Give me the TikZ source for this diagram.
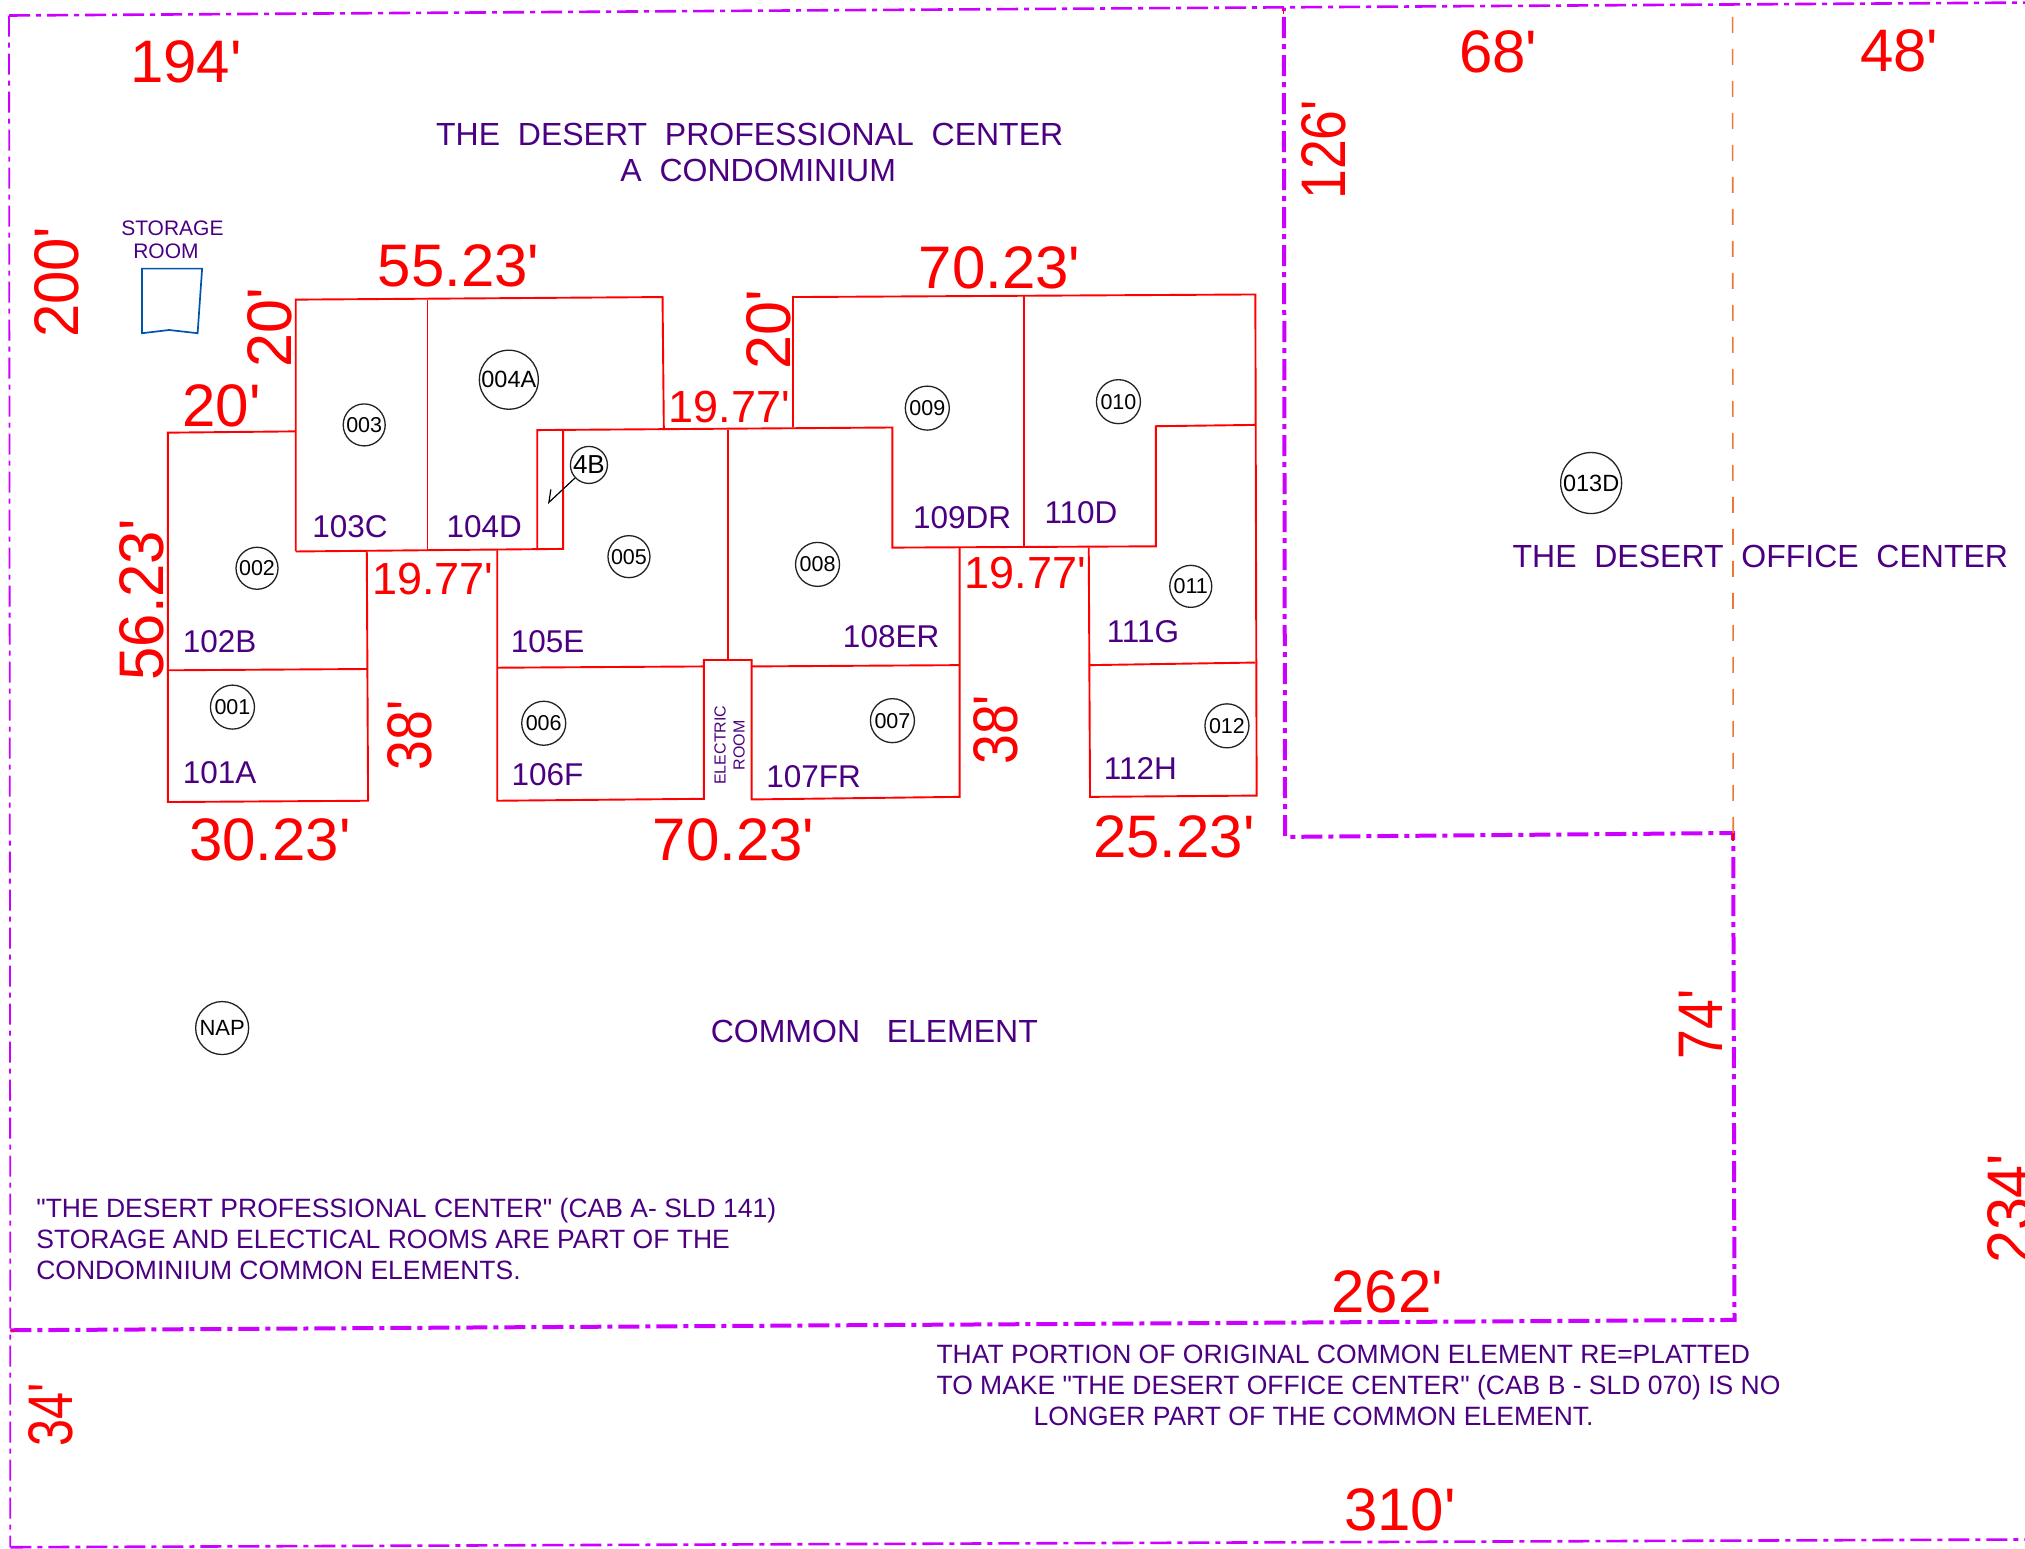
\documentclass[tikz,border=0pt]{standalone}
\usepackage{fontspec}
\usepackage{graphicx}
\newfontfamily\lib{Liberation Sans}
\definecolor{bound}{HTML}{CC00FF}
\definecolor{txtp}{HTML}{4B0082}
\definecolor{orng}{HTML}{EE7733}
\definecolor{stor}{HTML}{0055AA}
\definecolor{ink}{HTML}{222222}
\tikzset{
  room/.style={draw=red,line width=1.9pt,line join=miter},
  bndthick/.style={draw=bound,line width=4pt,dash pattern=on 21pt off 6pt on 5pt off 6pt},
  bndmid/.style={draw=bound,line width=2.6pt,dash pattern=on 21pt off 6pt on 5pt off 6pt},
  bndthin/.style={draw=bound,line width=1.8pt,dash pattern=on 21pt off 6pt on 5pt off 6pt},
  dimbig/.style={text=red,inner sep=0pt,font=\lib\fontsize{60}{60}\selectfont},
  dimvert/.style={text=red,inner sep=0pt,rotate=90,font=\lib\fontsize{63}{63}\selectfont},
  dimmid/.style={text=red,inner sep=0pt,font=\lib\fontsize{45}{45}\selectfont},
  unit/.style={text=txtp,inner sep=0pt,font=\lib\fontsize{31.5}{31.5}\selectfont},
  title/.style={text=txtp,inner sep=0pt,align=center,font=\lib\fontsize{32}{36}\selectfont},
  note/.style={text=txtp,inner sep=0pt,align=left,anchor=west,font=\lib\fontsize{26.5}{31}\selectfont},
  tag/.style={circle,draw=ink,line width=1.3pt,inner sep=0pt,text=black,font=\lib\fontsize{21.5}{21.5}\selectfont},
  tagbig/.style={tag,font=\lib\fontsize{23.5}{23.5}\selectfont},
}
\begin{document}
\begin{tikzpicture}[x=1.2915pt,y=-1.2915pt]
\useasboundingbox (0pt,0pt) rectangle (2025pt,-1548pt);

% boundary
\coordinate (tl) at (7,12);
\coordinate (tr) at (1568,2);
\coordinate (bl) at (8,1198);
\coordinate (br) at (1568,1192);
\coordinate (ml) at (8,1030);
\coordinate (n1) at (994,6);
\coordinate (n2) at (995,648);
\coordinate (n3) at (1342,645);
\coordinate (n4) at (1343,1022);
\coordinate (o1) at (1341.5,13);
\draw[bndthin] (tl) -- (ml) -- (bl);
\draw[bndmid] (tl) -- (tr);
\draw[bndmid] (bl) -- (br);
\draw[bndthick] (ml) -- (n4) -- (n3) -- (n2) -- (n1);
\draw[orng,line width=1.6pt,dash pattern=on 16pt off 16pt] (o1) -- (n3);
\draw[red,line width=1.5pt] (8,1030) -- (14,1030);
\draw[red,line width=1.5pt] (n3) -- (1342,651);
\draw[red,line width=1.2pt] (n1) -- (994,11);

% storage room
\draw[stor,line width=1.7pt] (110,208) -- (156.5,208) -- (153,258) -- (131,255.5) -- (110,258) -- cycle;

% rooms
\draw[room] (229,334) -- (130,335) -- (130,621) -- (285,620) -- (284,427);
\draw[room] (130,519) -- (284,518);
\draw[room] (229,427) -- (229,232) -- (513,230) -- (514,333);
\draw[room] (229,427) -- (436,425) -- (436,333);
\draw[room] (331,232) -- (331,426);
\draw[room] (416,426) -- (416,333) -- (691,331) -- (691,424) -- (895,423) -- (895,330) -- (972,329);
\draw[room] (564,333) -- (564,511);
\draw[room] (385,426) -- (385,620) -- (545,618.5) -- (545,511) -- (582,511) -- (582,619) -- (743,617) -- (743,424);
\draw[room] (385,517) -- (545,516);
\draw[room] (582,516) -- (743,515);
\draw[room] (614,331) -- (614,230) -- (972,228) -- (973,616) -- (844,617) -- (843,424);
\draw[room] (793,229) -- (793,424);
\draw[room] (844,515) -- (972,513);

% tags
\node[tag,minimum size=44pt] (c001) at (180,547.5) {001};
\node[tag,minimum size=42pt] (c002) at (199,440) {002};
\node[tag,minimum size=42pt] (c003) at (282,329) {003};
\node[tagbig,minimum size=59pt] (c004A) at (394,294) {004A};
\node[tag,minimum size=37pt,font=\lib\fontsize{26}{26}\selectfont] (c4B) at (456,360) {4B};
\node[tag,minimum size=42pt] (c005) at (487,431) {005};
\node[tag,minimum size=44pt] (c006) at (421,560) {006};
\node[tag,minimum size=44pt] (c007) at (691,558) {007};
\node[tag,minimum size=44pt] (c008) at (633,437) {008};
\node[tag,minimum size=44pt] (c009) at (718,316) {009};
\node[tag,minimum size=44pt] (c010) at (866,311) {010};
\node[tag,minimum size=42pt] (c011) at (922,454) {011};
\node[tag,minimum size=44pt] (c012) at (950,562) {012};
\node[tagbig,minimum size=61pt] (c013D) at (1232,374) {013D};
\node[tag,minimum size=53pt,font=\lib\fontsize{22}{22}\selectfont] (cNAP) at (172,796) {NAP};
\coordinate (k1) at (425,389);
\coordinate (k2) at (426.5,379);
\draw[black,line width=1.2pt] (c4B) -- (k1) -- (k2);

% unit labels
\node[unit] (u103) at (271,408) {103C};
\node[unit] (u104) at (375,408) {104D};
\node[unit] (u102) at (170,497) {102B};
\node[unit] (u105) at (424,497) {105E};
\node[unit] (u101) at (170,598) {101A};
\node[unit] (u106) at (424,600) {106F};
\node[unit] (u107) at (630,601) {107FR};
\node[unit] (u108) at (690,493) {108ER};
\node[unit] (u109) at (745,401) {109DR};
\node[unit] (u110) at (837,397) {110D};
\node[unit] (u111) at (885,489) {111G};
\node[unit] (u112) at (883,595) {112H};

% titles
\node[title] (tdpc) at (580.5,118) {THE\ \ DESERT\ \ PROFESSIONAL\ \ CENTER\\\hspace*{17pt}A\ \ CONDOMINIUM};
\node[title] (tdoc) at (1363,431) {THE\ \ DESERT\ \ OFFICE\ \ CENTER};
\node[title] (tce) at (677,799) {COMMON\ \ \ ELEMENT};
\node[text=txtp,inner sep=0pt,align=center,font=\lib\fontsize{21}{23}\selectfont] (tstor) at (133.5,186) {STORAGE\\ROOM\hspace*{13pt}};
\node[text=txtp,inner sep=0pt,align=center,rotate=90,font=\lib\fontsize{16}{19}\selectfont] (telec) at (565,577) {ELECTRIC\\ROOM};
\node[note] (nl) at (28,959) {"THE DESERT PROFESSIONAL CENTER" (CAB A- SLD 141)\\STORAGE AND ELECTICAL ROOMS ARE PART OF THE\\CONDOMINIUM COMMON ELEMENTS.};
\node[note] (nr) at (725,1073) {THAT PORTION OF ORIGINAL COMMON ELEMENT RE=PLATTED\\TO MAKE "THE DESERT OFFICE CENTER" (CAB B - SLD 070) IS NO\\\hspace*{97pt}LONGER PART OF THE COMMON ELEMENT.};

% dimensions
\node[dimbig] (d194) at (144,48) {194'};
\node[dimbig] (d68) at (1160,40) {68'};
\node[dimbig] (d48) at (1470.5,39) {48'};
\node[dimbig] (d55) at (355,206) {55.23'};
\node[dimbig] (d70a) at (774,207) {70.23'};
\node[dimbig] (d20h) at (171.5,314) {20'};
\node[dimbig] (d30) at (209,650) {30.23'};
\node[dimbig] (d70b) at (568,650) {70.23'};
\node[dimbig] (d25) at (909,648) {25.23'};
\node[dimbig] (d262) at (1074,1000) {262'};
\node[dimbig] (d310) at (1084,1169) {310'};
\node[dimmid] (d19a) at (564.5,315) {19.77'};
\node[dimmid] (d19b) at (335,448) {19.77'};
\node[dimmid] (d19c) at (794,444) {19.77'};
\node[dimvert] (v200) at (44,218.5) {\scalebox{.95}[1]{200'}};
\node[dimvert] (v20a) at (209,253.5) {\scalebox{.97}[1]{20'}};
\node[dimvert] (v56) at (110,464.5) {\scalebox{.95}[1]{56.23'}};
\node[dimvert] (v38a) at (317,569.5) {\scalebox{.85}[1]{38'}};
\node[dimvert] (v20b) at (595,255.5) {\scalebox{.97}[1]{20'}};
\node[dimvert] (v38b) at (771,565) {\scalebox{.85}[1]{38'}};
\node[dimvert] (v126) at (1025,116) {\scalebox{.85}[1]{126'}};
\node[dimvert] (v74) at (1317,793) {\scalebox{.85}[1]{74'}};
\node[dimvert] (v234) at (1556,936) {\scalebox{.94}[1]{234'}};
\node[dimvert] (v34) at (39,1095.5) {\scalebox{.77}[1]{34'}};
\end{tikzpicture}
\end{document}
